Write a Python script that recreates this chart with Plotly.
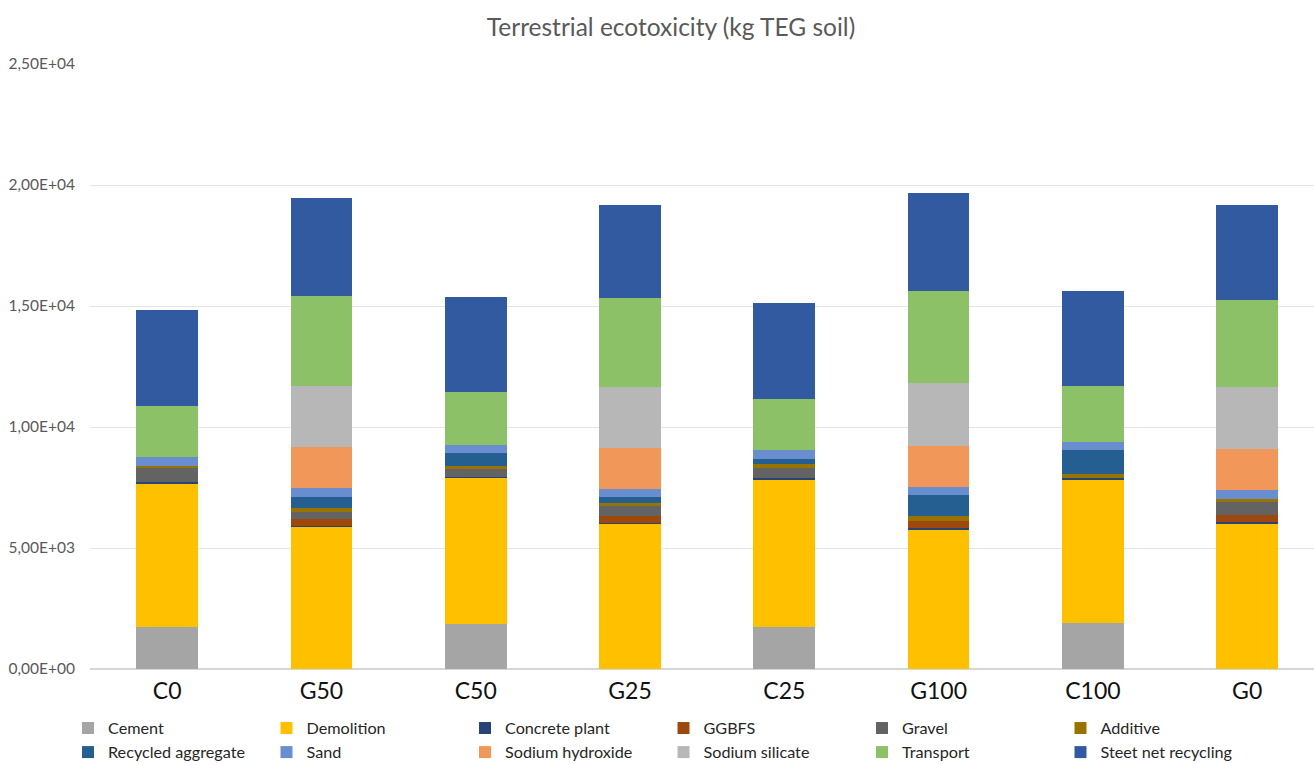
import plotly.graph_objects as go

# Mix designs along the category axis
categories = ["C0", "G50", "C50", "G25", "C25", "G100", "C100", "G0"]

# Contribution of each process (kg TEG soil), bottom to top of each stack
cement = [1750, 0, 1860, 0, 1750, 0, 1910, 0]
demolition = [5920, 5880, 6060, 6000, 6090, 5770, 5930, 6030]
concrete_plant = [40, 30, 30, 50, 40, 60, 40, 50]
ggbfs = [0, 290, 0, 270, 0, 290, 0, 280]
gravel = [610, 300, 300, 400, 440, 0, 0, 540]
additive = [50, 140, 150, 150, 140, 190, 170, 140]
recycled_aggregate = [0, 480, 510, 230, 220, 870, 1000, 0]
sand = [410, 350, 330, 350, 370, 340, 340, 350]
sodium_hydroxide = [0, 1690, 0, 1690, 0, 1710, 0, 1720]
sodium_silicate = [0, 2530, 0, 2530, 0, 2570, 0, 2550]
transport = [2090, 3720, 2200, 3680, 2110, 3840, 2300, 3600]
steel_net_recycling = [3960, 4050, 3930, 3840, 3970, 4010, 3930, 3930]

# Y axis ticks written in the comma-decimal scientific style
y_tick_values = [0, 5000, 10000, 15000, 20000, 25000]
y_tick_labels = ["0,00E+00", "5,00E+03", "1,00E+04", "1,50E+04", "2,00E+04", "2,50E+04"]

series = [
    ("Cement", cement, "#A5A5A5"),
    ("Demolition", demolition, "#FFC000"),
    ("Concrete plant", concrete_plant, "#264478"),
    ("GGBFS", ggbfs, "#9E480E"),
    ("Gravel", gravel, "#636363"),
    ("Additive", additive, "#997300"),
    ("Recycled aggregate", recycled_aggregate, "#255E91"),
    ("Sand", sand, "#698ED0"),
    ("Sodium hydroxide", sodium_hydroxide, "#F1975A"),
    ("Sodium silicate", sodium_silicate, "#B7B7B7"),
    ("Transport", transport, "#8CC168"),
    ("Steet net recycling", steel_net_recycling, "#325AA0"),
]

FONT = "Lato"

fig = go.Figure()
for name, values, color in series:
    fig.add_trace(go.Bar(
        name=name,
        x=categories,
        y=values,
        width=0.4,
        marker=dict(color=color, line=dict(width=0)),
    ))

fig.update_layout(
    width=1314,
    height=765,
    barmode="stack",
    paper_bgcolor="white",
    plot_bgcolor="white",
    margin=dict(l=90, r=0, t=64, b=96, autoexpand=False),
    font=dict(family=FONT, color="#595959"),
    title=dict(
        text="Terrestrial ecotoxicity (kg TEG soil)",
        x=671 / 1314,
        xref="container",
        xanchor="center",
        y=1 - 27 / 765,
        yref="container",
        yanchor="middle",
        font=dict(family=FONT, size=24.5, color="#595959"),
    ),
    xaxis=dict(
        range=[-0.5, 7.433],
        showgrid=False,
        showline=False,
        zeroline=False,
        ticks="",
        ticklabelstandoff=6,
        tickfont=dict(family=FONT, size=23, color="#111111"),
    ),
    yaxis=dict(
        range=[0, 25000],
        tickvals=y_tick_values,
        ticktext=y_tick_labels,
        showgrid=True,
        gridcolor="#E4E4E4",
        gridwidth=1.3,
        zeroline=True,
        zerolinecolor="#D6D6D6",
        zerolinewidth=1.6,
        showline=False,
        ticks="",
        ticklabelstandoff=14,
        tickfont=dict(family=FONT, size=15.5, color="#595959"),
    ),
    legend=dict(
        orientation="h",
        traceorder="normal",
        x=(68 - 90) / 1224,
        xanchor="left",
        y=(669 - 711) / 605,
        yanchor="top",
        entrywidth=153.5,
        entrywidthmode="pixels",
        font=dict(family=FONT, size=16.2, color="#262626"),
        bgcolor="rgba(0,0,0,0)",
    ),
)

fig.write_html("out.html")
